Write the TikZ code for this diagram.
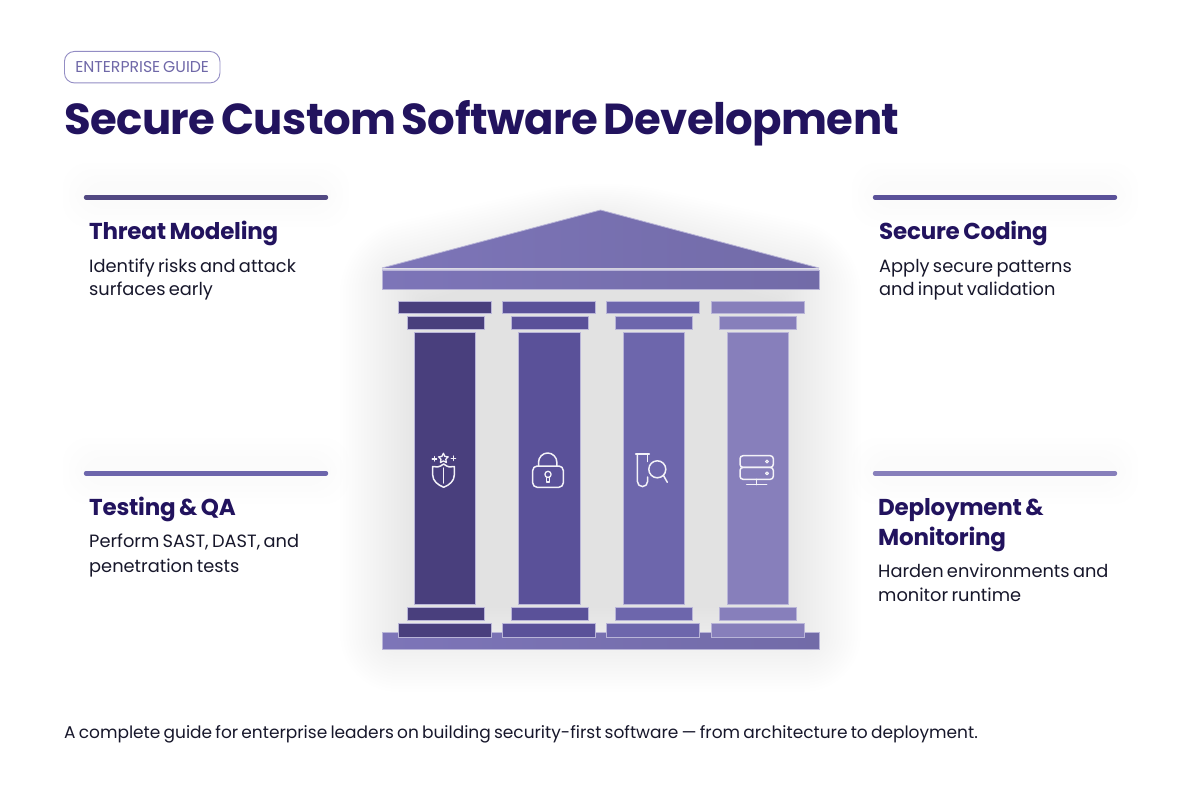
\documentclass[tikz,border=0pt]{standalone}
\usepackage{fontspec}
\setmainfont{Poppins}[WordSpace=0.7]
\newfontfamily\headfont{Poppins}[UprightFont=* SemiBold,BoldFont=* Bold,WordSpace=0.75,LetterSpace=-1.0]
\newfontfamily\titlefont{Poppins}[UprightFont=* Bold,WordSpace=0.65,LetterSpace=-1.3]
\definecolor{ink}{HTML}{22135E}
\definecolor{bodyink}{HTML}{17172B}
\definecolor{pillc}{HTML}{938DC4}
\definecolor{pilltext}{HTML}{6F68A8}
\definecolor{colA}{HTML}{493F7D}
\definecolor{colB}{HTML}{5A5199}
\definecolor{colC}{HTML}{6D66AC}
\definecolor{colD}{HTML}{877FBB}
\definecolor{roofL}{HTML}{7D75B8}
\definecolor{roofR}{HTML}{726BA8}
\definecolor{edgec}{HTML}{B9B5D8}
\tikzset{
 x=1pt,y=-1pt,
 title/.style={anchor=base west,inner sep=0,text=ink,font=\titlefont\fontsize{43.4}{44}\selectfont},
 heading/.style={anchor=base west,inner sep=0,text=ink,font=\headfont\bfseries\fontsize{23}{23}\selectfont},
 bodytext/.style={anchor=base west,inner sep=0,text=bodyink,font=\fontsize{17.8}{18}\selectfont},
 footertext/.style={anchor=base west,inner sep=0,text=bodyink,font=\fontsize{17}{18}\selectfont},
 rulebar/.style={line width=4.4pt,line cap=round},
 block/.style={draw=edgec,line width=.7pt},
 icon/.style={draw=white!90!colD,line width=1.5pt,line cap=round,line join=round},
}
\begin{document}
\begin{tikzpicture}
\useasboundingbox (0,0) rectangle (1200,797);
\fill[white] (0,0) rectangle (1200,797);
% faint glow behind the text cards
\foreach \k in {4,10,16,22}{
  \fill[black,opacity=.004,rounded corners=24pt] (85-\k,185-\k) rectangle (327+\k,205+\k);
  \fill[black,opacity=.004,rounded corners=24pt] (874-\k,185-\k) rectangle (1116+\k,205+\k);
  \fill[black,opacity=.004,rounded corners=24pt] (85-\k,460-\k) rectangle (327+\k,482+\k);
  \fill[black,opacity=.004,rounded corners=24pt] (874-\k,460-\k) rectangle (1116+\k,482+\k);
}
% soft glow behind temple
\foreach \k in {-42,-39,...,42}{
  \pgfmathsetmacro{\rc}{max(4,16+\k)}
  \pgfmathsetmacro{\ky}{\k*0.8}
  \fill[black,opacity=.004,rounded corners=\rc pt] (600,210-\ky) -- (819+\k,268-\ky) -- (819+\k,650+\k) -- (382-\k,650+\k) -- (382-\k,268-\ky) -- cycle;
}
% header
\node[draw=pillc,line width=.9pt,rounded corners=10pt,minimum width=155.5pt,minimum height=31.5pt,inner sep=0,anchor=north west,text=pilltext,font=\fontsize{15.7}{15}\selectfont] (pill) at (64,51) {ENTERPRISE GUIDE};
\node[title] (maintitle) at (64,135) {Secure Custom Software Development};
% rules
\draw[rulebar,color=colA!95!white] (86,197.3) -- (326,197.3);
\draw[rulebar,color=colB] (875,197.3) -- (1115,197.3);
\draw[rulebar,color=colC] (86,473.3) -- (326,473.3);
\draw[rulebar,color=colD] (875,473.3) -- (1115,473.3);
% text blocks
\node[heading] (h1) at (89,239) {Threat Modeling};
\node[bodytext] (b1a) at (89,272) {Identify risks and attack};
\node[bodytext] (b1b) at (89,295) {surfaces early};
\node[heading] (h2) at (879,239) {Secure Coding};
\node[bodytext] (b2a) at (879,272) {Apply secure patterns};
\node[bodytext] (b2b) at (879,295) {and input validation};
\node[heading] (h3) at (89,515) {Testing \& QA};
\node[bodytext] (b3a) at (89,547) {Perform SAST, DAST, and};
\node[bodytext] (b3b) at (89,572) {penetration tests};
\node[heading] (h4a) at (878,515) {Deployment \&};
\node[heading] (h4b) at (878,545) {Monitoring};
\node[bodytext] (b4a) at (878,577) {Harden environments and};
\node[bodytext] (b4b) at (878,601) {monitor runtime};
\node[footertext] (foot) at (64,738) {A complete guide for enterprise leaders on building security-first software — from architecture to deployment.};
% temple
\shade[left color=roofL,right color=roofR] (600.5,210) -- (819,268) -- (382,268) -- cycle;
\draw[edgec,line width=.8pt] (382,268) -- (600.5,210) -- (819,268);
\draw[edgec!70!white,line width=1.6pt] (382,269.3) -- (819,269.3);
\shade[left color=roofL,right color=roofR,draw=edgec,line width=.7pt] (382.5,270.5) rectangle (819,289.5);
\shade[left color=roofL,right color=roofR,draw=edgec,line width=.7pt] (382.5,632) rectangle (819,649);
\foreach \cc/\xa/\xb/\xc/\xd/\xe/\xf in {colA/398/491/407/484/414/475.5,colB/502.5/595/511/588/518.5/580,colC/606.5/699/615/692/623/684,colD/711/804/719/796.5/727.5/788}{
  \fill[block,fill=\cc] (\xa,301) rectangle (\xb,313.5);
  \fill[block,fill=\cc] (\xc,316.5) rectangle (\xd,329.5);
  \fill[block,fill=\cc] (\xe,332) rectangle (\xf,604);
  \fill[block,fill=\cc] (\xc,607.5) rectangle (\xd,620.5);
  \fill[block,fill=\cc] (\xa,623) rectangle (\xb,637);
}
% shield icon
\draw[icon] (443.7,464) .. controls (439,467.5) and (436,467.5) .. (432.7,466.5) -- (432.7,475) .. controls (432.7,481) and (438,485) .. (443.7,487.3) .. controls (449.4,485) and (454.3,481) .. (454.3,475) -- (454.3,466.5) .. controls (451,467.5) and (448,467.5) .. (443.7,464) -- cycle;
\draw[icon] (443.7,468) -- (443.7,483);
\draw[icon,line width=1.3pt] (443.4,453.2) -- (444.9,456.4) -- (448.2,456.9) -- (445.8,459.2) -- (446.4,462.5) -- (443.4,460.9) -- (440.4,462.5) -- (441,459.2) -- (438.6,456.9) -- (441.9,456.4) -- cycle;
\draw[icon,line width=1.4pt] (432.2,458.8) -- (436.6,458.8) (434.4,456.6) -- (434.4,461);
\draw[icon,line width=1.4pt] (451.2,458.2) -- (455.6,458.2) (453.4,456) -- (453.4,460.4);
% lock icon
\draw[icon,rounded corners=4.5pt] (532.7,466) rectangle (563.3,487.3);
\draw[icon] (538.5,466) -- (538.5,462.5) arc[start angle=180,end angle=0,x radius=9.2,y radius=-9.5] -- (556.9,466);
\draw[icon,line width=1.3pt] (548,474.4) circle[radius=3.1];
\draw[icon,line width=1.3pt] (546.8,477.2) -- (546.8,482) -- (549.2,482) -- (549.2,477.2);
% flask and magnifier icon
\draw[icon] (635.7,454) -- (649.3,454);
\draw[icon] (637.4,454) -- (637.4,481.5) arc[start angle=180,end angle=360,x radius=5.1,y radius=-5.1] -- (647.6,477);
\draw[icon] (647.6,454) -- (647.6,461.5);
\draw[icon] (657.3,469.3) circle[radius=8.5];
\draw[icon] (663.4,475.3) -- (667.3,482.3);
% server icon
\draw[icon,rounded corners=3pt] (740,455.7) rectangle (773.3,467.4);
\draw[icon,rounded corners=3pt] (740,467.4) rectangle (773.3,479.3);
\draw[icon,line width=1.1pt] (767,461.5) circle[radius=1.4];
\draw[icon,line width=1.1pt] (767,473.4) circle[radius=1.4];
\draw[icon] (756.7,479.3) -- (756.7,484.7) (746.7,484.7) -- (766.7,484.7);
\end{tikzpicture}
\end{document}
